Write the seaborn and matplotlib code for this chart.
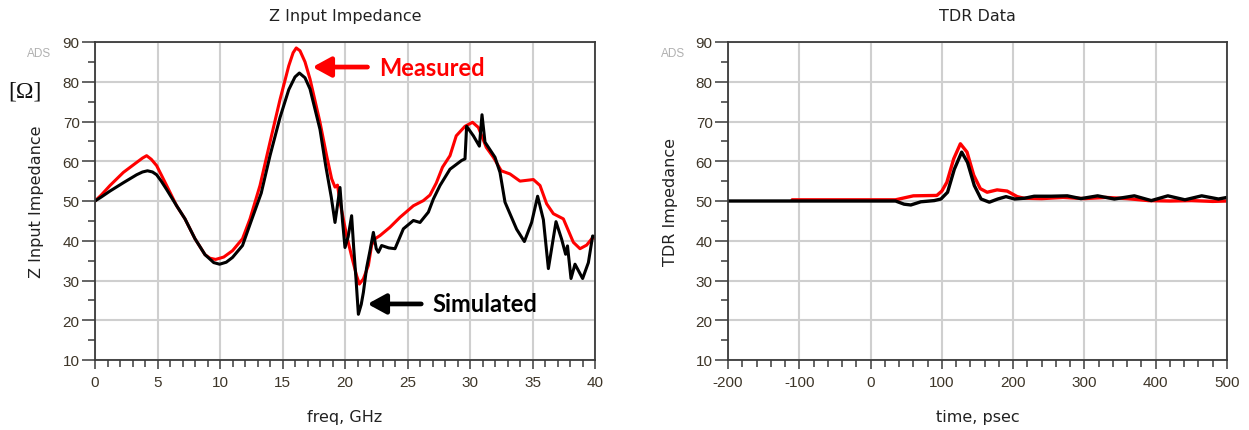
import matplotlib
matplotlib.use("Agg")
import matplotlib.pyplot as plt
from matplotlib.ticker import MultipleLocator
import seaborn as sns
import pandas as pd

# ---------------- data ----------------
freq_meas = [0, 0.5, 1.2, 2.27, 3.33, 3.8, 4.13, 4.5, 4.93, 5.3, 5.73, 6.53, 7.2, 8.0, 8.8,
             9.2, 9.65, 10.3, 11.0, 11.8, 12.4, 13.2, 14.0, 14.8, 15.5, 15.85, 16.1, 16.4,
             16.8, 17.2, 18.0, 18.53, 18.93, 19.2, 19.4, 19.6, 20.13, 20.53, 20.93, 21.15,
             21.47, 21.87, 22.13, 22.4, 22.8, 23.6, 24.4, 25.47, 26.27, 26.8, 27.3, 27.8,
             28.4, 28.9, 29.6, 30.2, 30.67, 31.3, 31.87, 32.5, 33.2, 34.0, 35.07, 35.6,
             36.13, 36.67, 37.47, 38.27, 38.8, 39.33, 39.87, 40.0]
z_meas = [50.0, 51.5, 53.9, 57.2, 59.7, 60.8, 61.4, 60.5, 58.9, 56.6, 53.9, 48.8, 45.5, 40.5, 36.5,
          35.6, 35.3, 35.9, 37.5, 40.5, 45.5, 53.9, 64.8, 75.5, 84.0, 87.3, 88.5, 87.8,
          85.0, 80.7, 69.8, 61.4, 55.6, 53.5, 54.0, 49.7, 41.3, 36.1, 31.2, 29.1,
          30.4, 33.8, 38.9, 40.5, 41.3, 43.4, 45.9, 48.8, 50.1, 51.5, 54.5, 58.5,
          61.4, 66.4, 68.8, 69.8, 68.5, 63.5, 61.0, 57.6, 56.8, 55.0, 55.4, 53.9,
          49.3, 46.8, 45.5, 39.6, 38.0, 38.9, 41.0, 40.5]

freq_sim = [0, 0.5, 1.2, 2.27, 3.33, 3.8, 4.2, 4.6, 4.93, 5.3, 5.73, 6.53, 7.2, 8.0, 8.8, 9.5,
            9.97, 10.5, 11.0, 11.8, 12.5, 13.3, 14.0, 14.8, 15.5, 16.0, 16.35, 16.8, 17.2,
            18.0, 18.45, 18.9, 19.2, 19.4, 19.6, 19.8, 20.0, 20.25, 20.53, 20.7, 20.88,
            21.07, 21.3, 21.47, 21.73, 22.0, 22.27, 22.5, 22.67, 22.93, 23.5, 24.0, 24.67,
            25.47, 26.0, 26.67, 27.07, 27.6, 28.4, 29.33, 29.6, 29.73, 30.27, 30.75, 30.96,
            31.2, 32.0, 32.4, 32.8, 33.73, 34.35, 34.93, 35.41, 35.87, 36.27, 36.88, 37.33,
            37.65, 37.8, 38.08, 38.4, 39.01, 39.47, 39.81, 40.0]
z_sim = [50.0, 51.0, 52.5, 54.6, 56.6, 57.3, 57.6, 57.3, 56.6, 55.0, 52.9, 48.8, 45.5, 40.5, 36.5,
         34.5, 34.1, 34.6, 35.8, 38.8, 45.0, 52.0, 61.4, 71.0, 78.0, 81.2, 82.2, 81.0, 78.2,
         68.0, 59.0, 51.0, 44.6, 49.0, 53.4, 45.0, 38.3, 41.0, 46.3, 38.0, 30.4,
         21.5, 24.0, 27.0, 33.2, 37.5, 42.1, 38.0, 37.1, 38.8, 38.2, 38.0, 43.0,
         45.1, 44.6, 47.2, 50.5, 53.9, 58.0, 60.2, 60.6, 68.8, 66.4, 63.8, 71.7,
         64.8, 61.0, 57.2, 49.7, 42.9, 39.8, 44.6, 51.2, 45.3, 33.0, 44.8, 40.4,
         36.6, 38.7, 30.5, 34.1, 30.5, 34.5, 41.2, 41.0]

time_meas = [-110, 35, 50, 60, 93, 100, 107, 116.6, 126, 135.3, 144.7, 154, 163.5, 177.5,
             191.6, 205.7, 215, 240, 270, 300, 330, 360, 390, 420, 450, 480, 500]
tdr_meas = [50.3, 50.3, 50.9, 51.3, 51.4, 52.5, 54.7, 60.6, 64.4, 62.3, 56.5, 53.1, 52.2, 52.8,
            52.5, 51.1, 50.7, 50.6, 50.9, 50.6, 50.9, 50.6, 50.1, 50.0, 50.1, 49.9, 50.0]

time_sim = [-200, 35, 47, 56.5, 70.5, 89.3, 98.7, 108, 117.5, 127.8, 136, 145.5, 155, 166.6,
            178.4, 190, 202, 216, 229.5, 253, 276, 295, 318.5, 342, 370, 393.8, 417, 441,
            464.5, 488, 500]
tdr_sim = [50.0, 50.0, 49.2, 49.0, 49.8, 50.1, 50.5, 52.2, 58.0, 62.3, 59.7, 53.9, 50.5, 49.7,
           50.5, 51.1, 50.5, 50.7, 51.2, 51.2, 51.3, 50.6, 51.3, 50.5, 51.3, 50.1, 51.3, 50.3,
           51.3, 50.5, 50.9]

y_ticks = [10, 20, 30, 40, 50, 60, 70, 80, 90]
freq_ticks = [0, 5, 10, 15, 20, 25, 30, 35, 40]
time_ticks = [-200, -100, 0, 100, 200, 300, 400, 500]

# ---------------- style ----------------
sns.set_style("white")
plt.rcParams['font.family'] = ['DejaVu Sans']
plt.rcParams['axes.unicode_minus'] = False

W, H = 1249, 431
fig = plt.figure(figsize=(W / 100, H / 100), dpi=100)

def px_axes(l, r, t, b):
    return fig.add_axes([l / W, 1 - b / H, (r - l) / W, (b - t) / H])

axL = px_axes(95, 595, 43, 361)
axR = px_axes(728, 1227, 43, 361)

RED = '#ff0000'
BLK = '#000000'
SPINE = '#3a3a3a'
TICKFONT = dict(family='Liberation Sans', size=11)

def style(ax, xticks, xminor, xlim, title, xlabel, ylabel):
    ax.set_xlim(*xlim)
    ax.set_ylim(10, 90)
    ax.set_xticks(xticks)
    ax.set_yticks(y_ticks)
    ax.xaxis.set_minor_locator(MultipleLocator(xminor))
    ax.yaxis.set_minor_locator(MultipleLocator(5))
    ax.grid(True, which='major', color='#cfcfcf', lw=1.5)
    ax.set_axisbelow(True)
    for s in ax.spines.values():
        s.set_visible(True)
        s.set_color(SPINE)
        s.set_linewidth(1.3)
    ax.tick_params(axis='y', which='major', direction='out', length=9.5, width=1.1,
                   color=SPINE, pad=1.5, labelcolor='#3d3528', left=True)
    ax.tick_params(axis='y', which='minor', direction='out', length=5, width=1.1,
                   color=SPINE, left=True)
    ax.tick_params(axis='x', which='major', direction='out', length=6.5, width=1.1,
                   color=SPINE, pad=4, labelcolor='#3d3528', bottom=True)
    ax.tick_params(axis='x', which='minor', direction='out', length=5, width=1.1,
                   color=SPINE, bottom=True)
    for lab in ax.get_xticklabels() + ax.get_yticklabels():
        lab.set_fontfamily(TICKFONT['family'])
        lab.set_fontsize(TICKFONT['size'])
    ax.set_xlabel('')
    ax.set_ylabel('')
    ax.text(0.5, 1.082, title, transform=ax.transAxes, ha='center', va='center',
            fontsize=11.5, color='#222222')
    ax.text(0.5, -0.179, xlabel, transform=ax.transAxes, ha='center', va='center',
            fontsize=11.5, color='#222222')
    ax.text(-0.116, 0.5, ylabel, transform=ax.transAxes, ha='center', va='center',
            rotation=90, fontsize=11.5, color='#222222')
    ax.text(-0.111, 0.965, 'ADS', transform=ax.transAxes, ha='center', va='center',
            fontsize=8.5, color='#b0b0b0', family='Liberation Sans')

# ---------------- left: Z input impedance ----------------
dfm = pd.DataFrame({'freq': freq_meas, 'z': z_meas})
dfs = pd.DataFrame({'freq': freq_sim, 'z': z_sim})
sns.lineplot(data=dfm, x='freq', y='z', ax=axL, color=RED, lw=2.2, sort=False, estimator=None)
sns.lineplot(data=dfs, x='freq', y='z', ax=axL, color=BLK, lw=2.2, sort=False, estimator=None)
style(axL, freq_ticks, 1, (0, 40), 'Z Input Impedance', 'freq, GHz', 'Z Input Impedance')

axL.text(-0.14, 0.846, '[Ω]', transform=axL.transAxes, ha='center', va='center',
         fontsize=17, family='Liberation Serif', color='#111111')

arrow_kw = dict(arrowstyle='-|>,head_length=0.55,head_width=0.3', lw=3.4,
                mutation_scale=20, shrinkA=0, shrinkB=0)
axL.annotate('', xy=(17.4, 83.7), xytext=(21.8, 83.7),
             arrowprops=dict(color=RED, **arrow_kw))
axL.text(22.7, 83.7, 'Measured', ha='left', va='center', fontsize=17,
         family='Lato', fontweight='bold', color=RED)
axL.annotate('', xy=(21.8, 24.1), xytext=(26.1, 24.1),
             arrowprops=dict(color=BLK, **arrow_kw))
axL.text(27.0, 24.1, 'Simulated', ha='left', va='center', fontsize=17,
         family='Lato', fontweight='bold', color=BLK)

# ---------------- right: TDR data ----------------
dtm = pd.DataFrame({'time': time_meas, 'z': tdr_meas})
dts = pd.DataFrame({'time': time_sim, 'z': tdr_sim})
sns.lineplot(data=dtm, x='time', y='z', ax=axR, color=RED, lw=2.4, sort=False, estimator=None)
sns.lineplot(data=dts, x='time', y='z', ax=axR, color=BLK, lw=2.4, sort=False, estimator=None)
style(axR, time_ticks, 20, (-200, 500), 'TDR Data', 'time, psec', 'TDR Impedance')

fig.savefig('out.png', dpi=100)
